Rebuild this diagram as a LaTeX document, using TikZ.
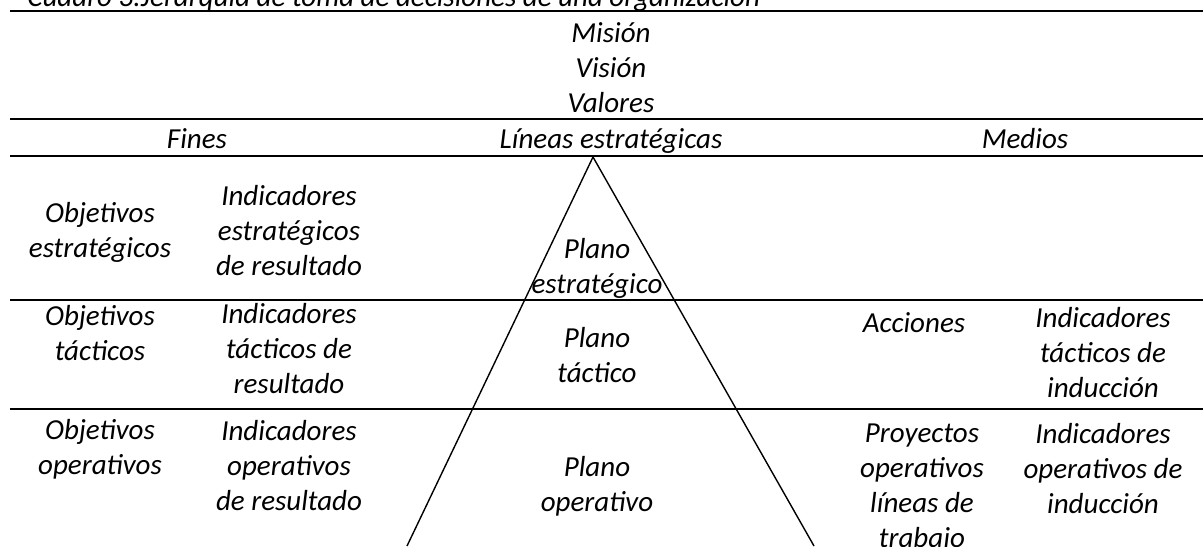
\documentclass[tikz,border=0pt]{standalone}
\usepackage{fontspec}
\setmainfont{Carlito}
\usepackage{tikz}
\usetikzlibrary{positioning}

\begin{document}
\begin{tikzpicture}[x=0.5pt,y=-0.5pt,
  cell/.style={anchor=base,align=center,inner sep=0pt,
    font=\fontsize{14.5}{17.5}\selectfont\itshape},
  rule/.style={line width=0.65pt}]
\clip (0,0) rectangle (1203,546);
\useasboundingbox (0,0) rectangle (1203,546);
% caption (cut at the top)
\node[cell,anchor=base west] (cap) at (27,6) {Cuadro 3.Jerarquía de toma de decisiones de una organización};
% table rules
\foreach \y/\n in {11/r0,119/r1,156/r2,300/r3,409/r4}
  \draw[rule] (10,\y) coordinate (\n l) -- (1203,\y) coordinate (\n r);
% pyramid
\coordinate (apex) at (593,157);
\coordinate (bl) at (407,546);
\coordinate (br) at (814,546);
\draw[line width=0.7pt] (bl) -- (apex) -- (br);
% head (base = last line)
\node[cell] (mvv) at (611,112) {Misión\\Visión\\Valores};
\node[cell] (fines) at (197,148) {Fines};
\node[cell] (lineas) at (611,148) {Líneas estratégicas};
\node[cell] (medios) at (1025,148) {Medios};
% strategic row
\node[cell] (objE) at (100,257) {Objetivos\\estratégicos};
\node[cell] (indE) at (289,275) {Indicadores\\estratégicos\\de resultado};
\node[cell] (planoE) at (597,293) {Plano\\estratégico};
% tactical row
\node[cell] (objT) at (100,360) {Objetivos\\tácticos};
\node[cell] (indT) at (289,393) {Indicadores\\tácticos de\\resultado};
\node[cell] (planoT) at (597,382) {Plano\\táctico};
\node[cell] (acc) at (914,332) {Acciones};
\node[cell] (indTi) at (1103,397) {Indicadores\\tácticos de\\inducción};
% operative row
\node[cell] (objO) at (100,474) {Objetivos\\operativos};
\node[cell] (indO) at (289,510) {Indicadores\\operativos\\de resultado};
\node[cell] (planoO) at (597,511) {Plano\\operativo};
\node[cell] (proy) at (922,547) {Proyectos\\operativos\\líneas de\\trabajo};
\node[cell] (indOi) at (1103,513) {Indicadores\\operativos de\\inducción};
\end{tikzpicture}
\end{document}
